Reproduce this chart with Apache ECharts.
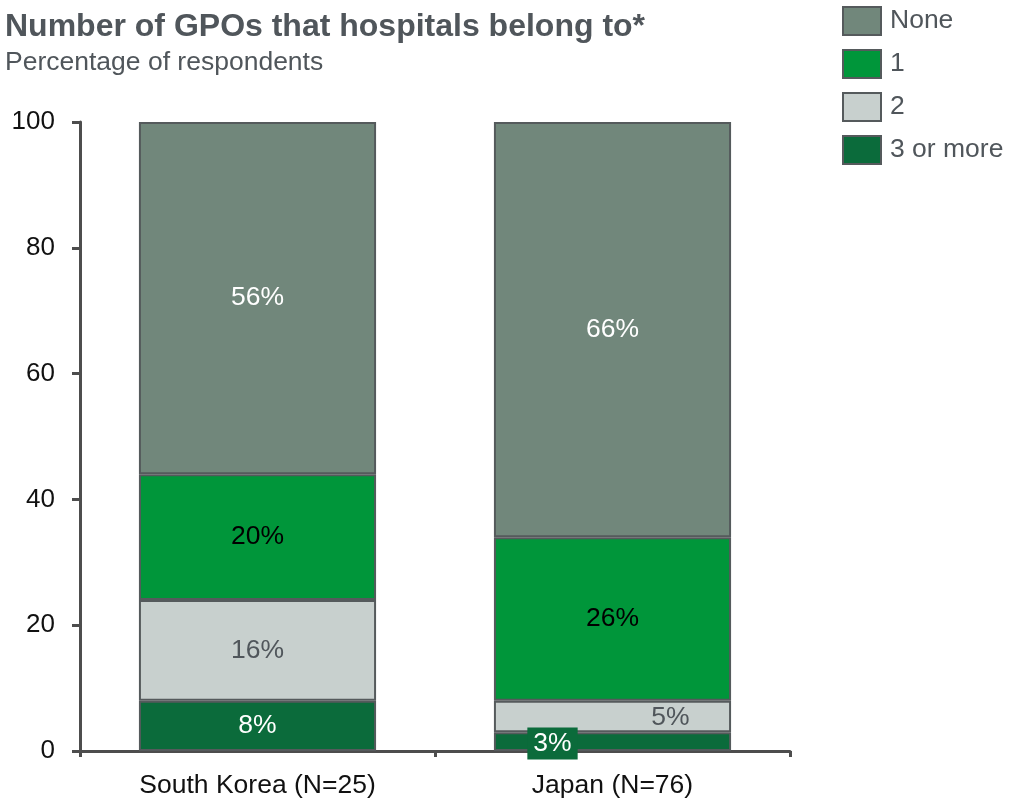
<!DOCTYPE html>
<html>
<head>
<meta charset="utf-8">
<script src="https://cdn.jsdelivr.net/npm/echarts@6/dist/echarts.min.js"></script>
<style>
  html, body { margin: 0; padding: 0; background: #fff; }
  #chart { width: 1010px; height: 800px; }
</style>
</head>
<body>
<div id="chart"></div>
<script>
// Survey groups along the x axis
const categories = ['South Korea (N=25)', 'Japan (N=76)'];
// Share of respondents (%) by number of GPOs
const noneValues = [56, 66];
const oneValues = [20, 26];
const twoValues = [16, 5];
const threePlusValues = [8, 3];
const yTicks = { min: 0, max: 100, interval: 20 };

const FONT = '"Liberation Sans", Arial, sans-serif';
const BORDER = '#555a5c';
const TEXT_GRAY = '#50565b';
const FS = 26.5;

const chart = echarts.init(document.getElementById('chart'), null, { renderer: 'canvas' });

function seg(name, values, color, labelColor, overrides) {
  return {
    name: name,
    type: 'bar',
    stack: 'total',
    barWidth: '66.8%',
    itemStyle: { color: color, borderColor: BORDER, borderWidth: 2 },
    label: {
      show: true,
      position: 'inside',
      color: labelColor,
      fontSize: FS,
      fontFamily: FONT,
      formatter: p => p.value + '%'
    },
    emphasis: { disabled: true },
    data: values.map((v, i) => {
      const o = overrides && overrides[i];
      return o ? { value: v, label: o } : v;
    })
  };
}

chart.setOption({
  animation: false,
  textStyle: { fontFamily: FONT },
  title: {
    text: 'Number of GPOs that hospitals belong to*',
    subtext: 'Percentage of respondents',
    left: 0,
    top: 6,
    itemGap: 6,
    textStyle: { fontSize: 32, fontWeight: 'bold', color: TEXT_GRAY, fontFamily: FONT },
    subtextStyle: { fontSize: 26.5, color: TEXT_GRAY, fontFamily: FONT }
  },
  legend: {
    orient: 'vertical',
    left: 842,
    top: 6,
    padding: 0,
    itemWidth: 38,
    itemHeight: 28,
    itemGap: 13,
    icon: 'rect',
    selectedMode: false,
    textStyle: { fontSize: FS, color: TEXT_GRAY, fontFamily: FONT, padding: [4, 0, 0, 4] },
    itemStyle: { borderColor: BORDER, borderWidth: 2 },
    data: ['None', '1', '2', '3 or more']
  },
  grid: { left: 80, right: 220, top: 122, bottom: 49, containLabel: false },
  xAxis: {
    type: 'category',
    data: categories,
    axisLine: { lineStyle: { color: '#4d4d4d', width: 3 } },
    axisTick: { show: true, length: 6, lineStyle: { color: '#4d4d4d', width: 3 } },
    axisLabel: { fontSize: FS, color: '#111', margin: 21, fontFamily: FONT }
  },
  yAxis: {
    type: 'value',
    min: yTicks.min,
    max: yTicks.max,
    interval: yTicks.interval,
    axisLine: { show: true, lineStyle: { color: '#4d4d4d', width: 3 } },
    axisTick: { show: true, length: 8, lineStyle: { color: '#4d4d4d', width: 3 } },
    splitLine: { show: false },
    axisLabel: { fontSize: 26, color: '#111', margin: 25, fontFamily: FONT }
  },
  series: [
    seg('3 or more', threePlusValues, '#0b6b3b', '#ffffff', [null, {
      offset: [-60, 2],
      backgroundColor: '#0b6b3b',
      padding: [3, 6, 2, 6]
    }]),
    seg('2', twoValues, '#c8d0ce', TEXT_GRAY, [null, { offset: [58, 1] }]),
    seg('1', oneValues, '#00963a', '#000000'),
    seg('None', noneValues, '#71877b', '#ffffff')
  ]
});
</script>
</body>
</html>
